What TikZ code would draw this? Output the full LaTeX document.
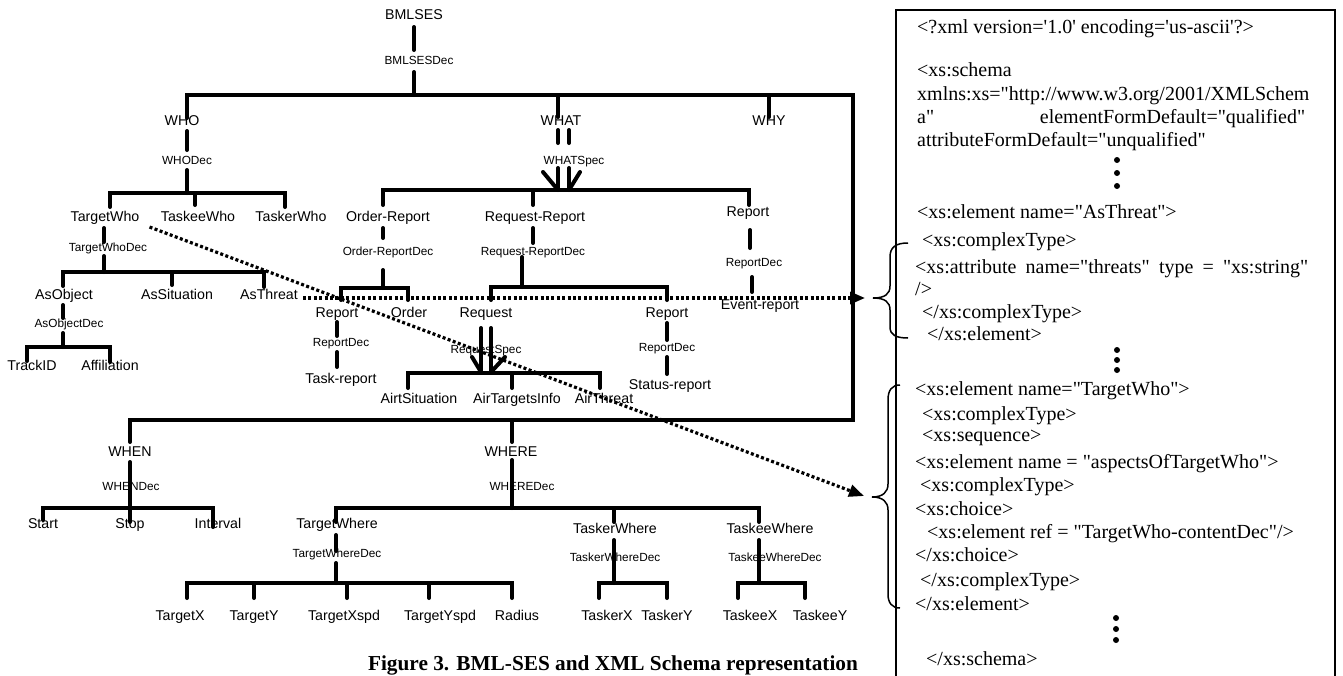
\documentclass[tikz,border=0pt]{standalone}
\usepackage{fontspec}
\setmainfont{Liberation Serif}
\setsansfont{Liberation Sans}
\newfontfamily\xmlfont{Liberation Serif}[Ligatures=TeXOff]
\usetikzlibrary{arrows.meta,calc}
\begin{document}
\begin{tikzpicture}[x=1pt,y=-1pt,
  bar/.style={line width=4pt, line cap=round, line join=miter},
  lbl/.style={font=\sffamily\fontsize{14.2}{16}\selectfont, inner sep=0pt, text height=0.716em, text depth=0pt},
  declbl/.style={font=\sffamily\fontsize{11.8}{13}\selectfont, inner sep=0pt, text height=0.716em, text depth=0pt},
  xml/.style={font=\xmlfont\fontsize{20}{23}\selectfont, inner sep=0pt, anchor=west, text height=0.662em, text depth=0pt},
  dotarrow/.style={line width=3.2pt, dash pattern=on 3pt off 2.4pt, -{Triangle[length=15pt,width=12pt]}},
  bracepath/.style={line width=1.5pt},
  vdot/.style={fill=black}]
\useasboundingbox (0,0) rectangle (1343,675);

% ---------- tree bars ----------
\draw[bar] (414,27)--(414,50);
\draw[bar] (414,72)--(414,95);
\draw[bar] (187,118)--(187,95)--(853,95)--(853,420)--(130,420)--(130,442);
\draw[bar] (512,420)--(512,442);
\draw[bar] (558,95)--(558,117);
\draw[bar] (769,95)--(769,117);
% WHO
\draw[bar] (187,131)--(187,150);
\draw[bar] (187,170)--(187,193);
\draw[bar] (110,207)--(110,193)--(285,193)--(285,207);
\draw[bar] (195,193)--(195,205);
% TargetWho
\draw[bar] (104,228)--(104,242);
\draw[bar] (104,256)--(104,272);
\draw[bar] (63,286)--(63,272)--(264,272)--(264,287);
\draw[bar] (172,272)--(172,285);
% AsObject
\draw[bar] (63,305)--(63,318);
\draw[bar] (63,333)--(63,347);
\draw[bar] (27,361)--(27,347)--(110,347)--(110,362);
% WHAT
\draw[bar] (558,130)--(558,143);
\draw[bar] (569,130)--(569,143);
\draw[bar] (558,168)--(558,190);
\draw[bar] (569,168)--(569,190);
\draw[bar] (543,172)--(558,190);
\draw[bar] (580,172)--(569,190);
\draw[bar] (383,205)--(383,190)--(749,190)--(749,205);
\draw[bar] (533,190)--(533,205);
% Order-Report
\draw[bar] (383,228)--(383,238);
\draw[bar] (383,270)--(383,288);
\draw[bar] (341,300)--(341,288)--(408,288)--(408,300);
\draw[bar] (337,322)--(337,336);
\draw[bar] (337,352)--(337,367);
% Request-Report
\draw[bar] (533,228)--(533,243);
\draw[bar] (522,257)--(522,287);
\draw[bar] (491,300)--(491,287)--(667,287)--(667,300);
\draw[bar] (481,328)--(481,372);
\draw[bar] (491,328)--(491,372);
\draw[bar] (472,357)--(481,372);
\draw[bar] (505,357)--(491,372);
\draw[bar] (408,388)--(408,373)--(600,373)--(600,388);
\draw[bar] (512,373)--(512,388);
\draw[bar] (667,323)--(667,340);
\draw[bar] (667,357)--(667,374);
% Report (WHAT)
\draw[bar] (750,230)--(750,248);
\draw[bar] (752,277)--(752,292);
% WHEN
\draw[bar] (130,462)--(130,522);
\draw[bar] (43,520)--(43,508)--(213,508)--(213,527);
% WHERE
\draw[bar] (512,460)--(512,508);
\draw[bar] (336,522)--(336,508)--(759,508)--(759,522);
\draw[bar] (614,508)--(614,522);
\draw[bar] (336,535)--(336,551);
\draw[bar] (336,563)--(336,583);
\draw[bar] (187,598)--(187,583)--(512,583)--(512,598);
\draw[bar] (254,583)--(254,598);
\draw[bar] (347,583)--(347,598);
\draw[bar] (429,583)--(429,598);
\draw[bar] (614,540)--(614,583);
\draw[bar] (599,598)--(599,583)--(667,583)--(667,598);
\draw[bar] (759,540)--(759,583);
\draw[bar] (738,598)--(738,583)--(805,583)--(805,598);

% ---------- tree labels ----------
\node[lbl] (bmlses) at (414,16) {BMLSES};
\node[declbl] (bmlsesdec) at (419,61) {BMLSESDec};
\node[lbl] (who) at (182,122) {WHO};
\node[declbl] (whodec) at (187,161) {WHODec};
\node[lbl] (what) at (561,122) {WHAT};
\node[declbl] (whatspec) at (574,161) {WHATSpec};
\node[lbl] (why) at (769,122) {WHY};
\node[lbl] (targetwho) at (105,218) {TargetWho};
\node[lbl] (taskeewho) at (198,218) {TaskeeWho};
\node[lbl] (taskerwho) at (291,218) {TaskerWho};
\node[lbl] (orderreport) at (388,218) {Order-Report};
\node[lbl] (requestreport) at (535,218) {Request-Report};
\node[lbl] (report1) at (748,213) {Report};
\node[declbl] (targetwhodec) at (108,248) {TargetWhoDec};
\node[declbl] (orderreportdec) at (388,252) {Order-ReportDec};
\node[declbl] (requestreportdec) at (533,252) {Request-ReportDec};
\node[declbl] (reportdec1) at (754,263) {ReportDec};
\node[lbl] (asobject) at (64,296) {AsObject};
\node[lbl] (assituation) at (177,296) {AsSituation};
\node[lbl] (asthreat) at (269,296) {AsThreat};
\node[lbl] (eventreport) at (760,306) {Event-report};
\node[lbl] (report2) at (337,314) {Report};
\node[lbl] (order) at (409,314) {Order};
\node[lbl] (request) at (486,314) {Request};
\node[lbl] (report3) at (667,314) {Report};
\node[declbl] (asobjectdec) at (69,324) {AsObjectDec};
\node[declbl] (reportdec2) at (341,343) {ReportDec};
\node[declbl] (requestspec) at (486,350) {RequestSpec};
\node[declbl] (reportdec3) at (667,348) {ReportDec};
\node[lbl] (trackid) at (32,367) {TrackID};
\node[lbl] (affiliation) at (110,367) {Affiliation};
\node[lbl] (taskreport) at (341,380) {Task-report};
\node[lbl] (statusreport) at (670,386) {Status-report};
\node[lbl] (airtsituation) at (419,400) {AirtSituation};
\node[lbl] (airtargetsinfo) at (517,400) {AirTargetsInfo};
\node[lbl] (airthreat) at (604,400) {AirThreat};
\node[lbl] (when) at (130,453) {WHEN};
\node[lbl] (where) at (511,453) {WHERE};
\node[declbl] (whendec) at (131,487) {WHENDec};
\node[declbl] (wheredec) at (522,487) {WHEREDec};
\node[lbl] (start) at (43,525) {Start};
\node[lbl] (stop) at (130,525) {Stop};
\node[lbl] (interval) at (218,525) {Interval};
\node[lbl] (targetwhere) at (337,525) {TargetWhere};
\node[lbl] (taskerwhere) at (615,530) {TaskerWhere};
\node[lbl] (taskeewhere) at (770,530) {TaskeeWhere};
\node[declbl] (targetwheredec) at (337,554) {TargetWhereDec};
\node[declbl] (taskerwheredec) at (615,558) {TaskerWhereDec};
\node[declbl] (taskeewheredec) at (775,558) {TaskeeWhereDec};
\node[lbl] (targetx) at (180,617) {TargetX};
\node[lbl] (targety) at (254,617) {TargetY};
\node[lbl] (targetxspd) at (344,617) {TargetXspd};
\node[lbl] (targetyspd) at (440,617) {TargetYspd};
\node[lbl] (radius) at (517,617) {Radius};
\node[lbl] (taskerx) at (607,617) {TaskerX};
\node[lbl] (taskery) at (667,617) {TaskerY};
\node[lbl] (taskeex) at (750,617) {TaskeeX};
\node[lbl] (taskeey) at (820,617) {TaskeeY};

% ---------- XML box ----------
\draw[line width=1.5pt] (896,690)--(896,10)--(1335,10)--(1335,690);
\node[xml] (x1) at (917,30) {<?xml version='1.0' encoding='us-ascii'?>};
\node[xml] (x2) at (917,73) {<xs:schema};
\node[xml] (x3) at (917,97) {xmlns:xs="http://www.w3.org/2001/XMLSchem};
\node[xml] (x4) at (917,120) {\makebox[388pt][l]{a"\hfill elementFormDefault="qualified"}};
\node[xml] (x5) at (917,143) {attributeFormDefault="unqualified"};
\fill[vdot] (1117,160) circle (3pt) (1117,173) circle (3pt) (1117,186) circle (3pt);
\node[xml] (x6) at (917,215) {<xs:element name="AsThreat">};
\node[xml] (x7) at (922,243) {<xs:complexType>};
\node[xml] (x8) at (915,270) {\makebox[393pt][s]{<xs:attribute name="threats" type = "xs:string"}};
\node[xml] (x9) at (915,292) {/>};
\node[xml] (x10) at (922,315) {</xs:complexType>};
\node[xml] (x11) at (927,337) {</xs:element>};
\fill[vdot] (1117,350) circle (3pt) (1117,360) circle (3pt) (1117,370) circle (3pt);
\node[xml] (x12) at (915,392) {<xs:element name="TargetWho">};
\node[xml] (x13) at (922,417) {<xs:complexType>};
\node[xml] (x14) at (922,438) {<xs:sequence>};
\node[xml] (x15) at (915,465) {<xs:element name = "aspectsOfTargetWho">};
\node[xml] (x16) at (920,488) {<xs:complexType>};
\node[xml] (x17) at (915,512) {<xs:choice>};
\node[xml] (x18) at (927,535) {<xs:element ref = "TargetWho-contentDec"/>};
\node[xml] (x19) at (915,558) {</xs:choice>};
\node[xml] (x20) at (920,583) {</xs:complexType>};
\node[xml] (x21) at (915,607) {</xs:element>};
\fill[vdot] (1116,618) circle (3pt) (1116,629) circle (3pt) (1116,640) circle (3pt);
\node[xml] (x22) at (926,662) {</xs:schema>};

% ---------- braces ----------
\coordinate (b1tip) at (873,298);
\coordinate (b2tip) at (872,497);
\draw[bracepath] (908,243) .. controls (896,243) and (890,247) .. (890,257) -- (890,286)
  .. controls (890,294) and (885,298) .. (b1tip)
  .. controls (885,298) and (890,302) .. (890,310) -- (890,327)
  .. controls (890,335) and (896,338) .. (908,338);
\draw[bracepath] (900,385) .. controls (892,385) and (888,390) .. (888,400) -- (888,484)
  .. controls (888,492) and (883,497) .. (b2tip)
  .. controls (883,497) and (888,502) .. (888,510) -- (888,594)
  .. controls (888,603) and (892,608) .. (900,608);

% ---------- dotted arrows ----------
\draw[dotarrow] ($(asthreat.east)+(5,2)$) -- ($(b1tip)+(-8,0)$);
\draw[dotarrow] ($(targetwho.east)+(10,9)$) -- ($(b2tip)+(-8,-1)$);

% ---------- caption ----------
\node[font=\bfseries\fontsize{21.3}{24}\selectfont, inner sep=0pt] (caption) at (613,665) {Figure 3. BML-SES and XML Schema representation};
\end{tikzpicture}
\end{document}
